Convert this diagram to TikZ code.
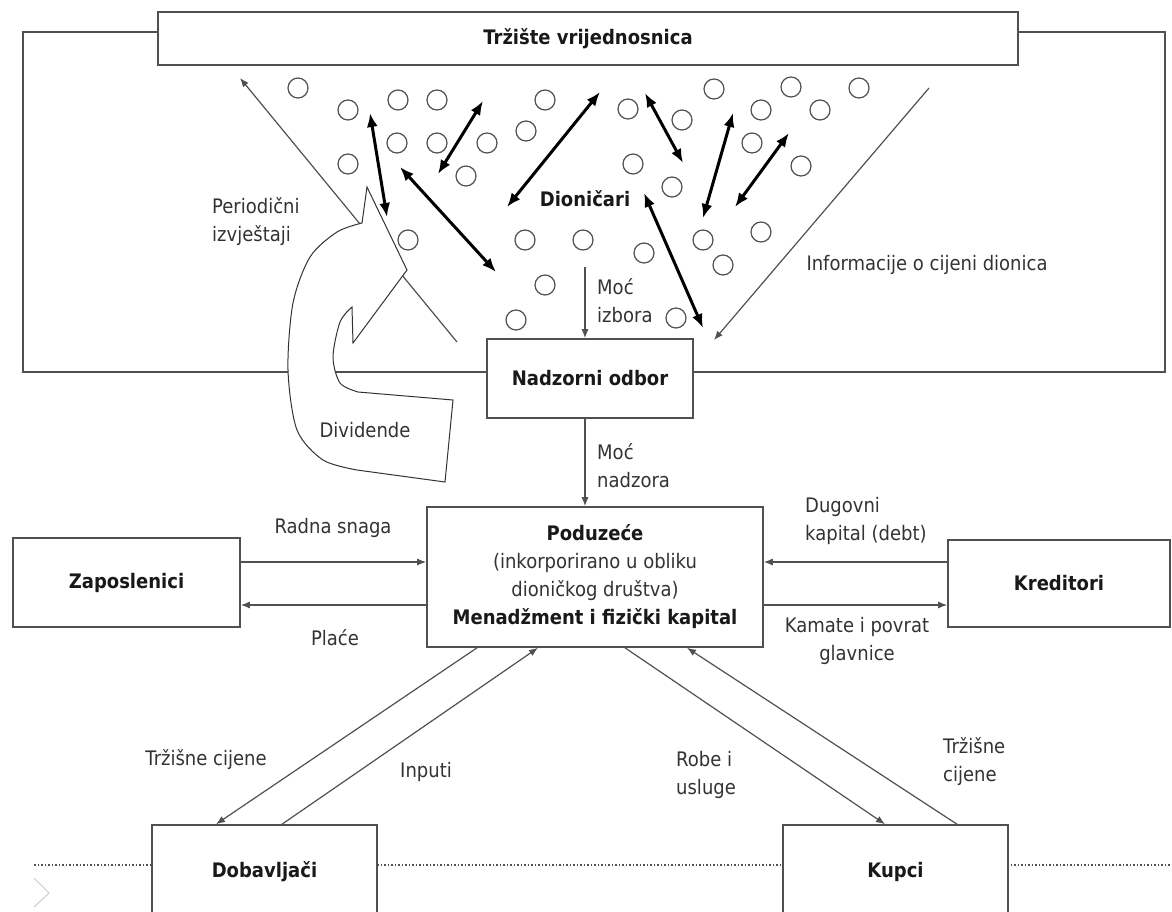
\documentclass[tikz,border=0pt]{standalone}
\usepackage{fontspec}
\setmainfont{DejaVu Sans}[FakeStretch=0.9]
\usetikzlibrary{arrows.meta}
\definecolor{linegray}{HTML}{505050}
\definecolor{textgray}{HTML}{333333}
\newcommand{\diagfont}{\fontsize{20}{28}\selectfont}
\tikzset{
  box/.style={draw=linegray, line width=1.6pt, fill=white, align=center,
    font=\diagfont\bfseries, text=black!90, inner sep=0pt},
  flow/.style={draw=linegray, line width=1.2pt, -{Latex[length=9pt,width=7pt]}},
  trade/.style={draw=black, line width=3pt,
    {Latex[length=14pt,width=11pt]}-{Latex[length=14pt,width=11pt]}},
  frame/.style={draw=linegray, line width=1.4pt},
  holder/.style={draw=linegray, line width=1.2pt},
  lbl/.style={text=textgray, align=left, inner sep=0pt, font=\diagfont},
}
\begin{document}
\begin{tikzpicture}[x=1pt,y=-1pt]
    \useasboundingbox (0,0) rectangle (1172,911);
    \clip (0,0) rectangle (1172,911);
    %% dotted base line and slide marker
    \draw[linegray, line width=1.2pt, dash pattern=on 1.5pt off 2pt] (34,865) -- (1172,865);
    \draw[gray!40, line width=1pt] (34,878) -- (49,893) -- (34,907);
    %% boxes
    \node[box, minimum width=860pt, minimum height=53pt] (trz) at (588,38.5) {Tržište vrijednosnica};
    \node[box, minimum width=206pt, minimum height=79pt] (nadz) at (590,378.5) {Nadzorni odbor};
    \node[box, minimum width=336pt, minimum height=140pt] (pod) at (595,577)
        {Poduzeće\\\mdseries\color{textgray}(inkorporirano u obliku\\
         \mdseries\color{textgray}dioničkog društva)\\\bfseries Menadžment i fizički kapital};
    \node[box, minimum width=227pt, minimum height=89pt] (zap) at (126.5,582.5) {Zaposlenici};
    \node[box, minimum width=222pt, minimum height=87pt] (kred) at (1059,583.5) {Kreditori};
    \node[box, minimum width=225pt, minimum height=94pt] (dobav) at (264.5,872) {Dobavljači};
    \node[box, minimum width=225pt, minimum height=94pt] (kupci) at (895.5,872) {Kupci};
    %% market frame
    \draw[frame] (trz.west |- 0,32) -| (23,372) -- (nadz.west |- 0,372);
    \draw[frame] (nadz.east |- 0,372) -| (1165,32) -- (trz.east |- 0,32);
    %% shareholders
    \foreach \x/\y in {298/88, 348/110, 398/100, 437/100, 545/100, 526/131, 397/143, 437/143,
        487/143, 348/164, 466/176, 408/240, 525/240, 583/240, 545/285, 516/320,
        628/109, 682/120, 714/89, 791/87, 859/88, 761/110, 820/110, 752/143,
        633/164, 672/187, 801/166, 761/232, 703/240, 644/253, 723/265, 676/318}
        \draw[holder] (\x,\y) circle (10pt);
    \foreach \ax/\ay/\bx/\by in {370/113/387/217, 483/101/438/174, 400/167/496/272,
        600/92/507/207, 645/93/683/163, 733/113/703/218, 789/133/735/207, 644/193/703/328}
        \draw[trade] (\ax,\ay) -- (\bx,\by);
    \node[font=\diagfont\bfseries, text=black!90] (dion) at (585,199) {Dioničari};
    %% information flows
    \coordinate (izvj) at (457,342);
    \coordinate (izvjend) at (240,78);
    \draw[flow] (izvj) -- (izvjend);
    \coordinate (cijena) at (929,88);
    \coordinate (cijenaend) at (714,340);
    \draw[flow] (cijena) -- (cijenaend);
    \node[lbl, anchor=west] at (212,222) {Periodični\\izvještaji};
    \node[lbl] at (927,265) {Informacije o cijeni dionica};
    %% dividends
    \filldraw[fill=white, draw=black!80, line width=1pt] (445,482)
        -- plot[smooth] coordinates {(357,470) (323,460) (297,430) (288,370) (293,303) (310,257) (337,232) (362,223)}
        -- (367,187) -- (407,270) -- (353,343)
        -- plot[smooth] coordinates {(352,307) (340,322) (333,357) (340,383) (358,392)}
        -- (453,400) -- cycle;
    \node[lbl] at (365,430) {Dividende};
    %% control
    \coordinate (os) at (585,0);
    \coordinate (izbor) at (585,267);
    \draw[flow] (izbor) -- (izbor |- nadz.north);
    \node[lbl, anchor=west] at (597,301) {Moć\\izbora};
    \draw[flow] (nadz.south -| os) -- (pod.north -| os);
    \node[lbl, anchor=west] at (597,466) {Moć\\nadzora};
    %% employees and creditors
    \draw[flow] (zap.east |- 0,562) -- (pod.west |- 0,562);
    \draw[flow] (pod.west |- 0,605) -- (zap.east |- 0,605);
    \node[lbl] at (333,528) {Radna snaga};
    \node[lbl] at (335,638) {Plaće};
    \draw[flow] (kred.west |- 0,562) -- (pod.east |- 0,562);
    \draw[flow] (pod.east |- 0,605) -- (kred.west |- 0,605);
    \node[lbl, anchor=west] at (805,521) {Dugovni\\kapital (debt)};
    \node[lbl, align=center] at (857,641) {Kamate i povrat\\glavnice};
    %% suppliers and customers
    \draw[flow] (pod.south -| 477,0) -- (dobav.north -| 216,0);
    \draw[flow] (dobav.north -| 282,0) -- (pod.south -| 538,0);
    \draw[flow] (pod.south -| 625,0) -- (kupci.north -| 885,0);
    \draw[flow] (kupci.north -| 957,0) -- (pod.south -| 687,0);
    \node[lbl] at (206,760) {Tržišne cijene};
    \node[lbl] at (426,772) {Inputi};
    \node[lbl, anchor=west] at (676,775) {Robe i\\usluge};
    \node[lbl, anchor=west] at (943,762) {Tržišne\\cijene};
\end{tikzpicture}
\end{document}
